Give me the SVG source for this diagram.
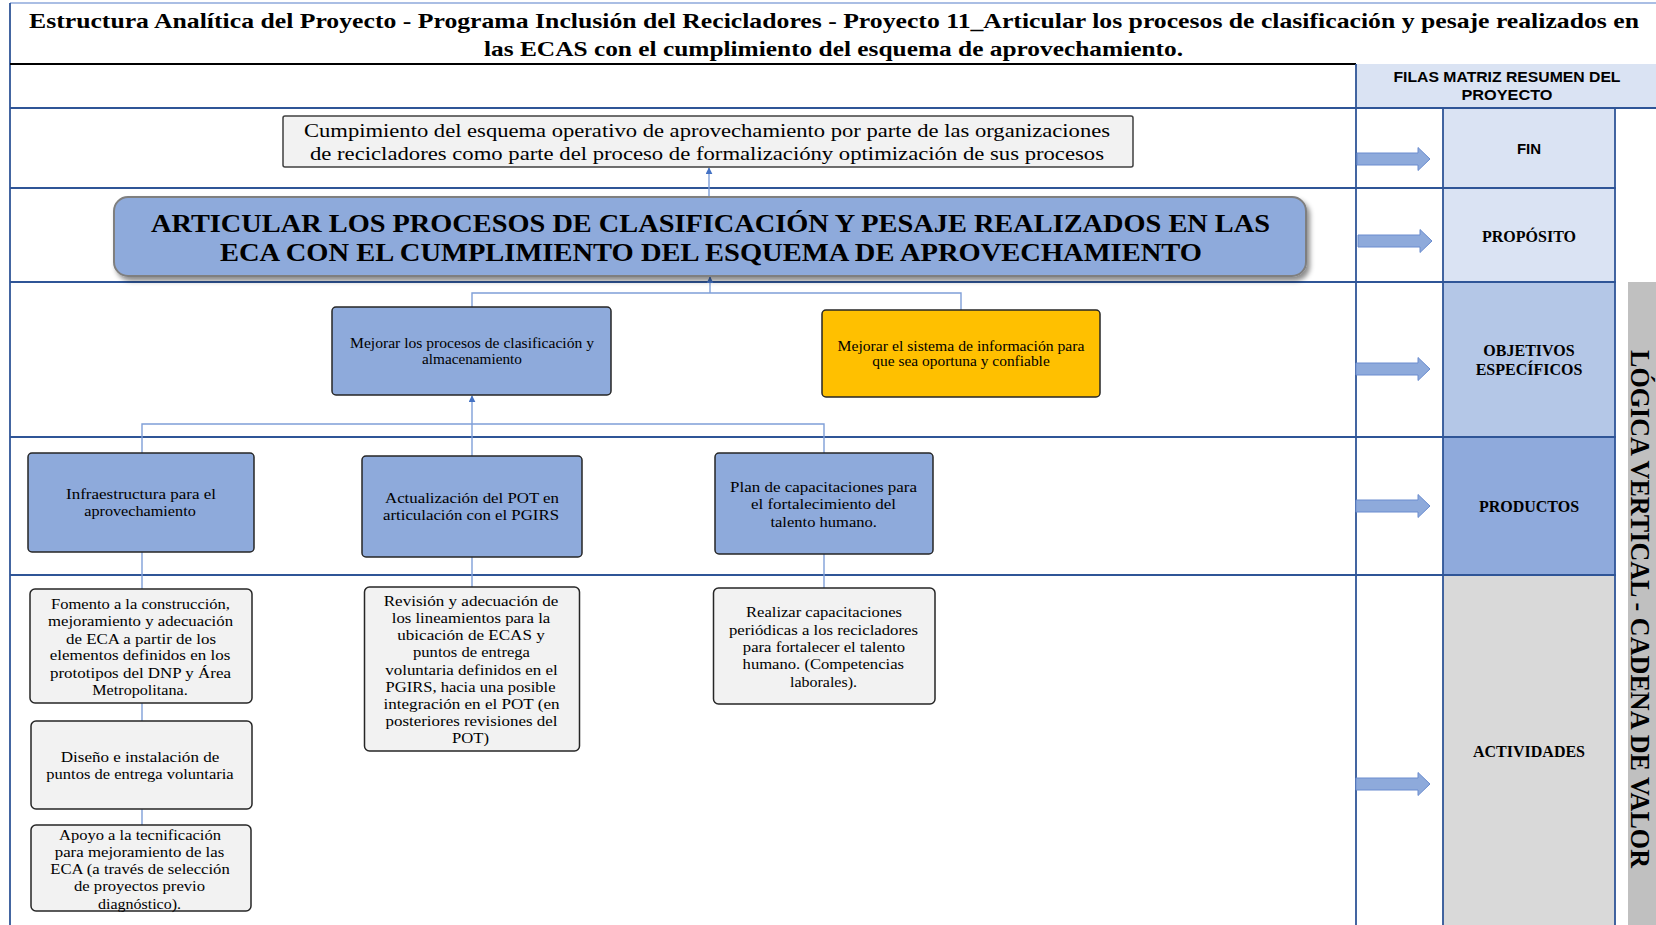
<svg xmlns="http://www.w3.org/2000/svg" width="1656" height="925" viewBox="0 0 1656 925">
<defs>
<style>
.s{font-family:"Liberation Serif","Times New Roman",serif;fill:#000;text-anchor:middle}
.sb{font-family:"Liberation Serif","Times New Roman",serif;font-weight:bold;fill:#000;text-anchor:middle}
.a{font-family:"Liberation Sans",Arial,sans-serif;font-weight:bold;fill:#000;text-anchor:middle}
.grid{stroke:#2f5597;stroke-width:1.8;fill:none}
.cell{stroke:#2f5597;stroke-width:1.8}
.box{fill:#8eaadb;stroke:#262626;stroke-width:1.5}
.act{fill:#f2f2f2;stroke:#262626;stroke-width:1.5}
.con{stroke:#7f9fd8;stroke-width:1.4;fill:none}
.up{stroke:#7f9fd8;stroke-width:1.4;fill:none;marker-end:url(#ah)}
.blk{fill:#8eaadb;stroke:#6a8ccf;stroke-width:1}
</style>
<marker id="ah" viewBox="0 0 10 10" refX="9" refY="5" markerWidth="7" markerHeight="7" markerUnits="userSpaceOnUse" orient="auto">
<path d="M0,0 L10,5 L0,10 z" fill="#4472c4"/>
</marker>
<filter id="sh" x="-5%" y="-20%" width="110%" height="150%">
<feDropShadow dx="3" dy="4" stdDeviation="2.5" flood-color="#000" flood-opacity="0.45"/>
</filter>
</defs>
<rect width="1656" height="925" fill="#fff"/>

<g id="table">
<rect x="1356" y="64" width="300" height="44" fill="#dae3f3"/>
<rect x="1443" y="108" width="172" height="80" fill="#dae3f3" class="cell"/>
<rect x="1443" y="188" width="172" height="94" fill="#dae3f3" class="cell"/>
<rect x="1443" y="282" width="172" height="155" fill="#b4c7e7" class="cell"/>
<rect x="1443" y="437" width="172" height="138" fill="#8faadc" class="cell"/>
<rect x="1443" y="575" width="172" height="352" fill="#d9d9d9" class="cell"/>
<rect x="1628" y="282" width="28" height="643" fill="#c0c0c0"/>
<line x1="10" y1="3" x2="1656" y2="3" stroke="#8ea9db" stroke-width="1.5"/>
<line x1="10" y1="3" x2="10" y2="925" class="grid"/>
<line x1="10" y1="64" x2="1356" y2="64" stroke="#000" stroke-width="2"/>
<line x1="1356" y1="64" x2="1356" y2="925" class="grid"/>
<line x1="10" y1="108" x2="1656" y2="108" class="grid"/>
<line x1="10" y1="188" x2="1615" y2="188" class="grid"/>
<line x1="10" y1="282" x2="1615" y2="282" class="grid"/>
<line x1="10" y1="437" x2="1615" y2="437" class="grid"/>
<line x1="10" y1="575" x2="1615" y2="575" class="grid"/>
</g>

<g id="title">
<text class="sb" x="834" y="28" font-size="22" textLength="1610" lengthAdjust="spacingAndGlyphs">Estructura Analítica del Proyecto - Programa Inclusión del Recicladores - Proyecto 11_Articular los procesos de clasificación y pesaje realizados en</text>
<text class="sb" x="833.5" y="56" font-size="22" textLength="699" lengthAdjust="spacingAndGlyphs">las ECAS con el cumplimiento del esquema de aprovechamiento.</text>
</g>

<g id="row-labels">
<text class="a" x="1507" y="82" font-size="14" textLength="227" lengthAdjust="spacingAndGlyphs">FILAS MATRIZ RESUMEN DEL</text>
<text class="a" x="1507" y="100" font-size="14" textLength="91" lengthAdjust="spacingAndGlyphs">PROYECTO</text>
<text class="a" x="1529" y="153.5" font-size="15">FIN</text>
<text class="sb" x="1529" y="241.5" font-size="16">PROPÓSITO</text>
<text class="sb" x="1529" y="355.5" font-size="16">OBJETIVOS</text>
<text class="sb" x="1529" y="374.5" font-size="16">ESPECÍFICOS</text>
<text class="sb" x="1529" y="511.5" font-size="16">PRODUCTOS</text>
<text class="sb" x="1529" y="756.5" font-size="16">ACTIVIDADES</text>
<text class="sb" font-size="28" textLength="518" lengthAdjust="spacingAndGlyphs" transform="translate(1631,609) rotate(90)" x="0" y="0">LÓGICA VERTICAL - CADENA DE VALOR</text>
</g>

<g id="row-arrows">
<polygon class="blk" points="1357,153 1418,153 1418,147.5 1430,159 1418,170.5 1418,165 1357,165"/>
<polygon class="blk" points="1358,235 1420,235 1420,229.5 1432,241 1420,252.5 1420,247 1358,247"/>
<polygon class="blk" points="1356,363 1418,363 1418,357.5 1430,369 1418,380.5 1418,375 1356,375"/>
<polygon class="blk" points="1356,500 1418,500 1418,494.5 1430,506 1418,517.5 1418,512 1356,512"/>
<polygon class="blk" points="1356,778 1418,778 1418,772.5 1430,784 1418,795.5 1418,790 1356,790"/>
</g>

<g id="connectors">
<line class="up" x1="709" y1="196" x2="709" y2="168"/>
<polyline class="con" points="472,307 472,293 961,293 961,310"/>
<line class="up" x1="710" y1="293" x2="710" y2="277"/>
<polyline class="con" points="142,453 142,424 824,424 824,453"/>
<line class="con" x1="472" y1="456" x2="472" y2="424"/>
<line class="up" x1="472" y1="424" x2="472" y2="396"/>
<line class="con" x1="142" y1="552" x2="142" y2="589"/>
<line class="con" x1="142" y1="703" x2="142" y2="721"/>
<line class="con" x1="142" y1="809" x2="142" y2="825"/>
<line class="con" x1="472" y1="557" x2="472" y2="587"/>
<line class="con" x1="824" y1="554" x2="824" y2="588"/>
</g>

<g id="fin">
<rect x="283" y="116" width="850" height="51" fill="#f2f2f2" stroke="#404040" stroke-width="1.5" rx="2"/>
<text class="s" x="707" y="137" font-size="18" textLength="806" lengthAdjust="spacingAndGlyphs">Cumpimiento del esquema operativo de aprovechamiento por parte de las organizaciones</text>
<text class="s" x="707" y="160" font-size="18" textLength="794" lengthAdjust="spacingAndGlyphs">de recicladores como parte del proceso de formalizacióny optimización de sus procesos</text>
</g>

<g id="proposito">
<rect x="114" y="197" width="1192" height="79" rx="14" fill="#8eaadb" stroke="#7f7f7f" stroke-width="2" filter="url(#sh)"/>
<text class="sb" x="710.5" y="232" font-size="26" textLength="1119" lengthAdjust="spacingAndGlyphs">ARTICULAR LOS PROCESOS DE CLASIFICACIÓN Y PESAJE REALIZADOS EN LAS</text>
<text class="sb" x="711" y="261" font-size="26" textLength="982" lengthAdjust="spacingAndGlyphs">ECA CON EL CUMPLIMIENTO DEL ESQUEMA DE APROVECHAMIENTO</text>
</g>

<g id="obj1">
<rect class="box" x="332" y="307" width="279" height="88" rx="4"/>
<text class="s" x="472" y="347.5" font-size="14.5" textLength="244" lengthAdjust="spacingAndGlyphs">Mejorar los procesos de clasificación y</text>
<text class="s" x="472" y="363.5" font-size="14.5" textLength="100" lengthAdjust="spacingAndGlyphs">almacenamiento</text>
</g>

<g id="obj2">
<rect x="822" y="310" width="278" height="87" rx="4" fill="#ffc000" stroke="#262626" stroke-width="1.5"/>
<text class="s" x="961" y="351" font-size="14.5" textLength="247" lengthAdjust="spacingAndGlyphs">Mejorar el sistema de información para</text>
<text class="s" x="961" y="366" font-size="14.5" textLength="177.5" lengthAdjust="spacingAndGlyphs">que sea oportuna y confiable</text>
</g>

<g id="prod1">
<rect class="box" x="28" y="453" width="226" height="99" rx="4"/>
<text class="s" x="141" y="498.5" font-size="15.5" textLength="150" lengthAdjust="spacingAndGlyphs">Infraestructura para el</text>
<text class="s" x="140" y="516" font-size="15.5" textLength="111.5" lengthAdjust="spacingAndGlyphs">aprovechamiento</text>
</g>

<g id="prod2">
<rect class="box" x="362" y="456" width="220" height="101" rx="4"/>
<text class="s" x="472" y="502.5" font-size="15.5" textLength="174" lengthAdjust="spacingAndGlyphs">Actualización del POT en</text>
<text class="s" x="471" y="519.5" font-size="15.5" textLength="176" lengthAdjust="spacingAndGlyphs">articulación con el PGIRS</text>
</g>

<g id="prod3">
<rect class="box" x="715" y="453" width="218" height="101" rx="4"/>
<text class="s" x="823.5" y="491.5" font-size="15" textLength="187" lengthAdjust="spacingAndGlyphs">Plan de capacitaciones para</text>
<text class="s" x="823.5" y="508.5" font-size="15" textLength="145" lengthAdjust="spacingAndGlyphs">el fortalecimiento del</text>
<text class="s" x="823.7" y="526.5" font-size="15" textLength="106.5" lengthAdjust="spacingAndGlyphs">talento humano.</text>
</g>

<g id="act1">
<rect class="act" x="30" y="589" width="222" height="114" rx="5"/>
<text class="s" x="140.5" y="608.5" font-size="15" textLength="179" lengthAdjust="spacingAndGlyphs">Fomento a la construcción,</text>
<text class="s" x="140.5" y="626" font-size="15" textLength="185" lengthAdjust="spacingAndGlyphs">mejoramiento y adecuación</text>
<text class="s" x="141" y="643.5" font-size="15" textLength="150" lengthAdjust="spacingAndGlyphs">de ECA a partir de los</text>
<text class="s" x="140" y="659.5" font-size="15" textLength="180.5" lengthAdjust="spacingAndGlyphs">elementos definidos en los</text>
<text class="s" x="140.5" y="677.5" font-size="15" textLength="181" lengthAdjust="spacingAndGlyphs">prototipos del DNP y Área</text>
<text class="s" x="140" y="694.5" font-size="15" textLength="95.5" lengthAdjust="spacingAndGlyphs">Metropolitana.</text>
</g>

<g id="act1b">
<rect class="act" x="31" y="721" width="221" height="88" rx="5"/>
<text class="s" x="140" y="762" font-size="15" textLength="158.5" lengthAdjust="spacingAndGlyphs">Diseño e instalación de</text>
<text class="s" x="140" y="779" font-size="15" textLength="187.3" lengthAdjust="spacingAndGlyphs">puntos de entrega voluntaria</text>
</g>

<g id="act1c">
<rect class="act" x="31" y="825" width="220" height="86" rx="5"/>
<text class="s" x="140" y="839.5" font-size="15" textLength="162" lengthAdjust="spacingAndGlyphs">Apoyo a la tecnificación</text>
<text class="s" x="139.5" y="856.5" font-size="15" textLength="169.5" lengthAdjust="spacingAndGlyphs">para mejoramiento de las</text>
<text class="s" x="140" y="873.5" font-size="15" textLength="179.5" lengthAdjust="spacingAndGlyphs">ECA (a través de selección</text>
<text class="s" x="139.5" y="891" font-size="15" textLength="131" lengthAdjust="spacingAndGlyphs">de proyectos previo</text>
<text class="s" x="139.5" y="908.5" font-size="15" textLength="83" lengthAdjust="spacingAndGlyphs">diagnóstico).</text>
</g>

<g id="act2">
<rect class="act" x="364.5" y="587" width="215" height="164" rx="5"/>
<text class="s" x="471" y="606" font-size="15" textLength="174.5" lengthAdjust="spacingAndGlyphs">Revisión y adecuación de</text>
<text class="s" x="471" y="623" font-size="15" textLength="158.5" lengthAdjust="spacingAndGlyphs">los lineamientos para la</text>
<text class="s" x="471" y="640" font-size="15" textLength="147.5" lengthAdjust="spacingAndGlyphs">ubicación de ECAS y</text>
<text class="s" x="471.5" y="656.5" font-size="15" textLength="117" lengthAdjust="spacingAndGlyphs">puntos de entrega</text>
<text class="s" x="471.5" y="674.5" font-size="15" textLength="172.5" lengthAdjust="spacingAndGlyphs">voluntaria definidos en el</text>
<text class="s" x="470.5" y="691.5" font-size="15" textLength="170" lengthAdjust="spacingAndGlyphs">PGIRS, hacia una posible</text>
<text class="s" x="471.5" y="708.5" font-size="15" textLength="176" lengthAdjust="spacingAndGlyphs">integración en el POT (en</text>
<text class="s" x="471.5" y="726" font-size="15" textLength="172" lengthAdjust="spacingAndGlyphs">posteriores revisiones del</text>
<text class="s" x="470.5" y="742.5" font-size="15" textLength="37" lengthAdjust="spacingAndGlyphs">POT)</text>
</g>

<g id="act3">
<rect class="act" x="713.5" y="588" width="221.5" height="116" rx="5"/>
<text class="s" x="824" y="617" font-size="15" textLength="156" lengthAdjust="spacingAndGlyphs">Realizar capacitaciones</text>
<text class="s" x="823.5" y="634.5" font-size="15" textLength="189" lengthAdjust="spacingAndGlyphs">periódicas a los recicladores</text>
<text class="s" x="824" y="652" font-size="15" textLength="162.4" lengthAdjust="spacingAndGlyphs">para fortalecer el talento</text>
<text class="s" x="823.3" y="668.5" font-size="15" textLength="161.4" lengthAdjust="spacingAndGlyphs">humano. (Competencias</text>
<text class="s" x="823.5" y="686.5" font-size="15" textLength="67" lengthAdjust="spacingAndGlyphs">laborales).</text>
</g>
</svg>
